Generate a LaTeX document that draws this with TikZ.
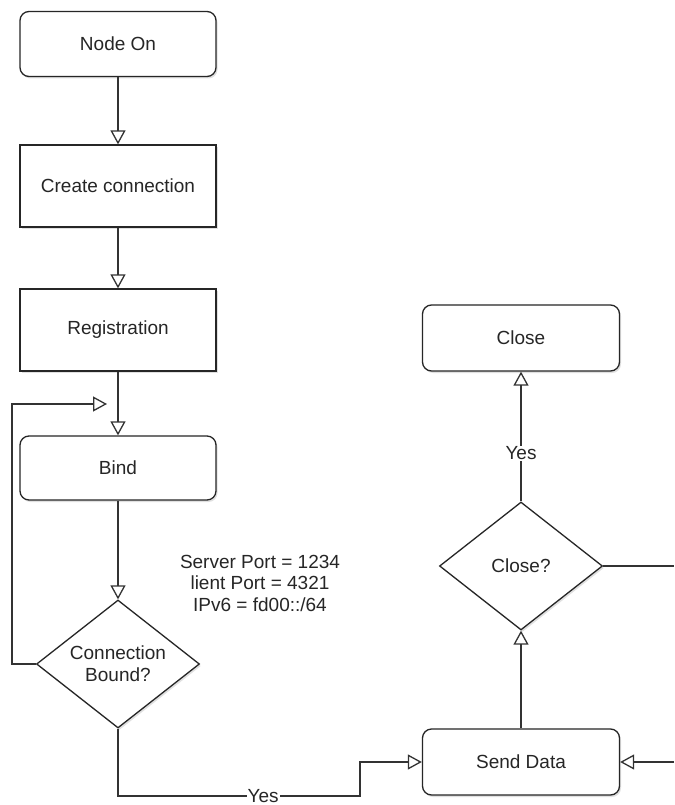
\documentclass[tikz,border=0pt]{standalone}
\usepackage{fontspec}
\setmainfont{Liberation Sans}
\usetikzlibrary{arrows.meta,shapes.geometric,shadows}
\begin{document}
\begin{tikzpicture}[x=1pt,y=-1pt,
  base/.style={draw=black!85, line width=1.3pt, fill=white, inner sep=0pt,
    font=\fontsize{19}{22}\selectfont, text=black!85,
    drop shadow={shadow xshift=1.5pt, shadow yshift=-2pt, opacity=0.12, fill=black}},
  sqbox/.style={base, rectangle, minimum width=196pt, minimum height=82pt},
  rbox/.style={base, rectangle, rounded corners=9pt, minimum width=196pt, minimum height=65pt},
  dbox/.style={base, diamond, align=center, minimum width=163pt, minimum height=128pt, shape aspect=1.27},
  conn/.style={draw=black!80, line width=1.3pt},
  arr/.style={conn, -{Triangle[open, length=14pt, width=15pt, line width=1.3pt]}},
  lab/.style={fill=white, inner sep=1pt, font=\fontsize{19}{22}\selectfont, text=black!85}]
\useasboundingbox (0,0) rectangle (674,805);
\fill[white] (0,0) rectangle (674,805);

\node[rbox] (on) at (118,44) {Node On};
\node[sqbox] (create) at (118,186) {Create connection};
\node[sqbox] (reg) at (118,330) {Registration};
\node[rbox, minimum height=64pt] (bind) at (118,468) {Bind};
\node[dbox] (cb) at (118,664) {Connection\\Bound?};

\node[rbox, minimum width=197pt, minimum height=66pt] (close) at (521,338) {Close};
\node[dbox] (closeq) at (521,566) {Close?};
\node[rbox, minimum width=197pt, minimum height=66pt] (send) at (521,762) {Send Data};

\node[align=center, font=\fontsize{19}{21.5}\selectfont, text=black!85, inner sep=0pt] (info) at (260,583)
  {Server Port = 1234\\lient Port = 4321\\IPv6 = fd00::/64};

\coordinate (l1) at (12,664);
\coordinate (l2) at (12,404);
\coordinate (lt) at (107,404);
\coordinate (j1) at (360,796);
\coordinate (j2) at (360,762);
\coordinate (r1) at (674,566);
\coordinate (r2) at (674,762);

\draw[arr] (on) -- (create);
\draw[arr] (create) -- (reg);
\draw[arr] (reg) -- (bind);
\draw[arr] (bind) -- (cb);
\draw[arr] (cb.west) -- (l1) -- (l2) -- (lt);
\draw[arr] (cb.south) |- node[lab, pos=0.8] {Yes} (j1) -- (j2) -- (send.west);
\draw[arr] (send) -- (closeq);
\draw[arr] (closeq) -- node[lab, pos=0.37] {Yes} (close);
\draw[conn] (closeq.east) -- (r1);
\draw[arr] (r2) -- (send.east);
\end{tikzpicture}
\end{document}
